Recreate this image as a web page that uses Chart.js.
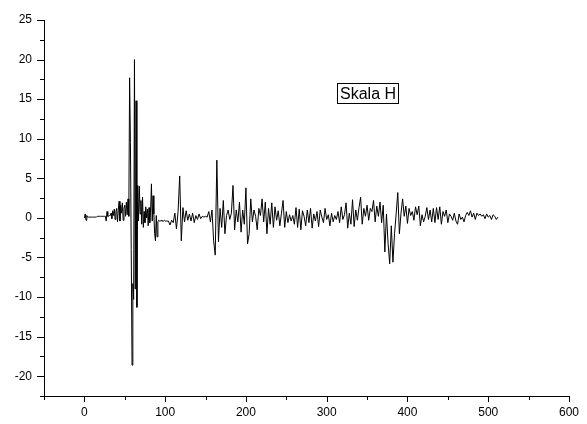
<!DOCTYPE html>
<html>
<head>
<meta charset="utf-8">
<title>Skala H</title>
<script src="https://cdn.jsdelivr.net/npm/chart.js@4/dist/chart.umd.min.js"></script>
<style>
  html, body { margin: 0; padding: 0; background: #fff; }
  canvas { display: block; }
</style>
</head>
<body>
<canvas id="chart" width="587" height="424"></canvas>
<script>
const denseValues = [
  0, 0.5, -0.3, 0.3, 0.1,
  0.1, 0.1, 0.1, 0.1, 0.1, 0.1, 0.1, 0.1, 0.1, 0.1, 0.1,
  0.2, 0.2, 0.2, 0.2, 0.2, 0.2, 0.2, 0.2, 0.2, 0.2, 0.2,
  -0.4, 0.8, 0.2, 0.2, 0.3, 0.3, 0.6, -0.1, 0.9, 0.3,
  1.1, -0.2, 0.8, 1.2, -0.5, 1.0, 2.1, -0.4, 1.6, 0.6,
  1.9, -0.3, 1.2, 1.6, 0.2, 2.0, 0.4, 2.4, 0.2, 17.7,
  9.5, -4.0, -18.6, -8.3, -10.3, 20.0, -9.0, 14.8, -11.3, 4.1,
  -0.4, 4.0, 0.5, 2.2, -0.8, 2.6, -1.2, 0.8, -0.6, 1.4,
  0.0, 1.1, -1.0, 1.3, -0.6, 1.0, 4.3, -0.4, 2.8, 0.5,
  -2.0, -2.9, 0.3, -2.4, -0.5, -0.3,
  -0.4, -0.4, -0.3, -0.4, -0.4, -0.4, -0.3, -0.4
];
const sparseValues = [
  -0.4, -0.4, -0.9, -0.3, -0.6, 0.6, -1.4, 0.8, 5.3, -2.9,          // 102-120
  1.3, -0.5, 0.9, -0.3, 0.5, -0.4, 0.6, -0.6, 0.3, -0.2,            // 122-140
  0.5, -0.1, 0.2, 0.1, 0.2, 0.1, 0.8, -0.5, 1.0, -2.9,              // 142-160
  -4.7, 7.3, -3.0, 1.2, -1.2, 2.2, -2.0, 0.3, 1.0, -0.2,            // 162-180
  0.6, 4.1, -1.5, 1.0, -0.5, 2.0, -1.8, 1.0, -0.8, 3.8,             // 182-200
  -3.3, -2.0, 2.4, -0.5, 1.0, 0.2, -1.5, 1.2, 0.3, 2.4,             // 202-220
  -0.5, 2.0, -2.0, 1.2, -0.8, 1.9, -1.2, 1.4, -0.3, 0.9,            // 222-240
  -1.0, 0.6, 2.2, -1.2, 0.8, -0.6, 0.4, -0.4, 0.3, -0.8,            // 242-260
  1.3, -1.2, 1.1, -1.5, 0.9, 0.2, -1.0, 1.0, -0.6, 1.2,             // 262-280
  -1.3, 0.5, -0.4, 0.8, -1.1, 1.0, 0.1, -0.6, 1.2, -0.2,            // 282-300
  0.4, -1.0, 0.6, -0.5, 0.3, -0.2, 0.8, -0.6, 1.4, -0.2,            // 302-320
  0.4, 1.9, -1.3, 0.6, -0.8, 2.3, -1.1, 1.0, -0.3, 1.3,             // 322-340
  2.6, -0.8, 1.2, 0.2, 1.6, -0.3, 1.2, 0.8, 2.2, -0.5,              // 342-360
  1.5, 0.2, 2.0, -0.6, 1.6, -4.3, 0.5, -3.2, -5.8, -1.0,            // 362-380
  -5.6, -2.0, 0.5, 3.2, -2.0, 0.6, 2.4, 0.2, 1.5, -0.7,             // 382-400
  1.2, 0.3, 0.8, -0.3, 1.4, 0.4, 1.5, -1.0, 0.4, -0.5,              // 402-420
  0.2, 1.3, -0.2, 1.0, -0.5, 1.2, -0.6, 1.3, -0.2, 1.4,             // 422-440
  -0.8, 0.8, 0.2, 1.0, -0.6, 0.5, 0.2, -0.3, 0.6, -0.4,             // 442-460
  -0.8, 0.5, -0.2, 0.1, -0.5, 0.3, 0.7, 0.3, 0.9, 0.1,              // 462-480
  0.6, -0.2, 0.6, 0.3, 0.5, 0.2, 0.4, -0.1, 0.5, 0.1,               // 482-500
  0.3, -0.2, 0.4, 0.2, -0.2, 0.1                                    // 502-512
];

const xTickLabels = ['0', '100', '200', '300', '400', '500', '600'];
const yTickLabels = ['-20', '-15', '-10', '-5', '0', '5', '10', '15', '20', '25'];
const boxLabel = 'Skala H';

const points = [];
denseValues.forEach((v, i) => points.push({ x: i, y: v }));
sparseValues.forEach((v, i) => points.push({ x: 102 + i * 2, y: v }));

const FONT = "'Liberation Sans', Arial, sans-serif";

// outward ticks, long at labelled values, short in between
const axisTicks = {
  id: 'axisTicks',
  afterDraw(chart) {
    const ctx = chart.ctx;
    const xs = chart.scales.x, ys = chart.scales.y;
    ctx.save();
    ctx.strokeStyle = '#000';
    ctx.lineWidth = 1;
    ctx.beginPath();
    xs.ticks.forEach(t => {
      const px = Math.round(xs.getPixelForValue(t.value)) + 0.5;
      const len = xTickLabels.includes(String(t.value)) ? 6 : 4;
      ctx.moveTo(px, xs.top);
      ctx.lineTo(px, xs.top + len);
    });
    ys.ticks.forEach(t => {
      const py = Math.round(ys.getPixelForValue(t.value)) + 0.5;
      const len = yTickLabels.includes(String(t.value)) ? 7 : 4;
      ctx.moveTo(ys.right - len, py);
      ctx.lineTo(ys.right, py);
    });
    ctx.stroke();
    ctx.restore();
  }
};

const labelBox = {
  id: 'labelBox',
  afterDraw(chart) {
    const ctx = chart.ctx;
    ctx.save();
    ctx.font = '16px ' + FONT;
    const w = ctx.measureText(boxLabel).width;
    const left = 337, top = 83;
    ctx.fillStyle = '#000';
    ctx.textBaseline = 'alphabetic';
    ctx.fillText(boxLabel, left + 3, top + 16);
    ctx.strokeStyle = '#000';
    ctx.lineWidth = 1;
    ctx.strokeRect(left + 0.5, top + 0.5, Math.round(w) + 5, 20);
    ctx.restore();
  }
};

new Chart(document.getElementById('chart'), {
  type: 'line',
  data: {
    datasets: [{
      data: points,
      borderColor: '#000',
      borderWidth: 1,
      pointRadius: 0,
      tension: 0,
      fill: false
    }]
  },
  options: {
    responsive: false,
    animation: false,
    layout: { padding: { top: 20, right: 18, left: 0, bottom: 0 } },
    plugins: { legend: { display: false }, tooltip: { enabled: false } },
    scales: {
      x: {
        type: 'linear',
        min: -50,
        max: 600,
        afterFit: s => { s.height = 28; },
        border: { display: true, color: '#000', width: 1 },
        grid: { drawOnChartArea: false, drawTicks: true, tickLength: 6, tickColor: 'rgba(0,0,0,0)' },
        ticks: {
          stepSize: 50,
          autoSkip: false,
          maxRotation: 0,
          padding: 3,
          color: '#000',
          font: { family: FONT, size: 12 },
          callback: v => xTickLabels.includes(String(v)) ? String(v) : ''
        }
      },
      y: {
        min: -22.5,
        max: 25,
        afterFit: s => { s.width = 44; },
        border: { display: true, color: '#000', width: 1 },
        grid: { drawOnChartArea: false, drawTicks: true, tickLength: 7, tickColor: 'rgba(0,0,0,0)' },
        ticks: {
          stepSize: 2.5,
          autoSkip: false,
          padding: 5,
          color: '#000',
          font: { family: FONT, size: 12 },
          callback: v => yTickLabels.includes(String(v)) ? String(v) : ''
        }
      }
    }
  },
  plugins: [axisTicks, labelBox]
});
</script>
</body>
</html>
